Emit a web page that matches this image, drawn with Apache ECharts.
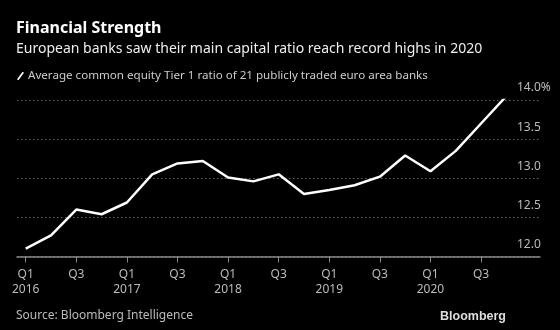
<!DOCTYPE html>
<html>
<head>
<meta charset="utf-8">
<script src="https://cdn.jsdelivr.net/npm/echarts@6/dist/echarts.min.js"></script>
<style>html,body{margin:0;padding:0;background:#000;}#c{width:560px;height:330px;}</style>
</head>
<body>
<div id="c"></div>
<script>
const quarters = ['Q1 2016','Q2 2016','Q3 2016','Q4 2016','Q1 2017','Q2 2017','Q3 2017','Q4 2017','Q1 2018','Q2 2018','Q3 2018','Q4 2018','Q1 2019','Q2 2019','Q3 2019','Q4 2019','Q1 2020','Q2 2020','Q3 2020','Q4 2020'];
const cet1Ratio = [12.10,12.27,12.60,12.54,12.69,13.05,13.19,13.22,13.01,12.96,13.05,12.80,12.85,12.91,13.02,13.29,13.09,13.35,13.70,14.05];
const yTicks = [12.0,12.5,13.0,13.5,14.0];
const seriesName = 'Average common equity Tier 1 ratio of 21 publicly traded euro area banks';
const titleText = 'Financial Strength';
const subtitleText = 'European banks saw their main capital ratio reach record highs in 2020';
const sourceText = 'Source: Bloomberg Intelligence';

const FONT = 'Noto Sans';
const tickIdx = quarters.map((q,i)=>i).filter(i => /^Q[13]/.test(quarters[i]));

const chart = echarts.init(document.getElementById('c'), null, {renderer:'canvas'});
chart.setOption({
  backgroundColor:'#000',
  animation:false,
  textStyle:{fontFamily:FONT},
  title:[
    {text:titleText, left:11, top:15, textStyle:{color:'#fff', fontSize:16, fontWeight:'bold', fontFamily:FONT}},
    {text:subtitleText, left:11, top:37, textStyle:{color:'#eee', fontSize:14, fontWeight:'normal', fontFamily:FONT}},
    {text:sourceText, left:11, top:305, textStyle:{color:'#bbb', fontSize:12, fontWeight:'normal', fontFamily:FONT}},
    {text:'Bloomberg', right:49, top:305, textStyle:{color:'#ddd', fontSize:12.5, fontWeight:'bold', fontFamily:'Liberation Sans'}}
  ],
  legend:{
    left:12, top:65, itemWidth:7, itemHeight:11, itemGap:6,
    icon:'path://M8,0 L10,1.5 L2,12 L0,10.5 Z',
    textStyle:{color:'#ccc', fontSize:11.6, fontFamily:FONT, padding:[0,0,0,-1]},
    data:[{name:seriesName, itemStyle:{color:'#fff'}}]
  },
  grid:{left:17, right:20, top:100, bottom:73.5, containLabel:false},
  xAxis:{
    type:'value', min:-0.344, max:20.33,
    axisLine:{show:true, lineStyle:{color:'#888', width:1.5}},
    axisTick:{show:true, customValues:tickIdx, length:6, lineStyle:{color:'#888', width:1}},
    axisLabel:{customValues:tickIdx, color:'#bbb', fontSize:12, lineHeight:15, margin:11, fontFamily:FONT,
      formatter:v => { const q = quarters[Math.round(v)]; if(!q) return ''; const p=q.split(' '); return p[0]==='Q1' ? p[0]+'\n'+p[1] : p[0]; }},
    splitLine:{show:false}
  },
  yAxis:{
    type:'value', position:'right', min:yTicks[0], max:yTicks[yTicks.length-1], interval:0.5,
    axisLine:{show:false}, axisTick:{show:false},
    axisLabel:{inside:true, align:'left', verticalAlign:'bottom', margin:23, padding:[0,0,6,0], color:'#bbb', fontSize:12, fontFamily:FONT,
      formatter:v => v===yTicks[yTicks.length-1] ? v.toFixed(1)+'%' : v.toFixed(1)},
    splitLine:{show:true, lineStyle:{color:'#666', type:[1.5,2.5], width:1}}
  },
  series:[{
    name:seriesName, type:'line', showSymbol:false, symbol:'none',
    lineStyle:{color:'#fff', width:2.5}, itemStyle:{color:'#fff'},
    data:cet1Ratio.map((v,i)=>[i,v])
  }]
});
</script>
</body>
</html>
